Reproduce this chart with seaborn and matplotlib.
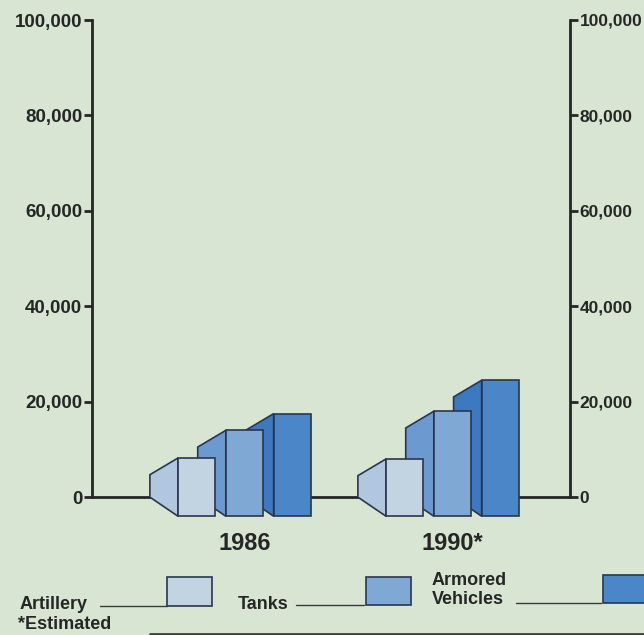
import matplotlib
matplotlib.use("Agg")
import matplotlib.pyplot as plt
from matplotlib.patches import Polygon, Rectangle
from matplotlib.lines import Line2D
import numpy as np
import pandas as pd
import seaborn as sns

# ---- data -------------------------------------------------------------
years = ["1986", "1990"]
year_labels = ["1986", "1990*"]
weapons = ["Artillery", "Tanks", "Armored Vehicles"]
artillery = [8200, 8000]
tanks = [14000, 18000]
armored = [17500, 24500]
y_ticks = [0, 20000, 40000, 60000, 80000, 100000]

# ---- styling ----------------------------------------------------------
BG = "#d8e5d3"
INK = "#262626"
EDGE = "#2a3550"
front_colors = ["#c2d3e2", "#80a8d5", "#4a86c8"]
side_colors = ["#b0c7df", "#6c99d0", "#3c79c0"]

sns.set_style("white")
plt.rcParams["font.family"] = ["Liberation Sans", "DejaVu Sans"]

W, H = 644, 635
fig = plt.figure(figsize=(W / 100, H / 100), dpi=100, facecolor=BG)

# axes: 0 sits at y=497 px, 100,000 at y=20 px; x spans the two vertical rules
ax = fig.add_axes([92 / W, (H - 521) / H, 478 / W, (521 - 20) / H])
ax.set_facecolor(BG)

df = pd.DataFrame({
    "year": years * 3,
    "weapon": np.repeat(weapons, len(years)),
    "count": artillery + tanks + armored,
})

sns.barplot(data=df, x="year", y="count", hue="weapon", order=years,
            hue_order=weapons, palette=front_colors, saturation=1,
            width=0.69, gap=0.22, edgecolor=EDGE, linewidth=1.2,
            errorbar=None, legend=False, ax=ax)

# ---- turn flat bars into shaded blocks ----------------------------------
DROP_FRONT = 4000    # front face hangs below the base line
TAPER = 3500         # receding edge is shorter at the top
DEPTH = 0.135        # horizontal depth of the receding face (category units)

for i, container in enumerate(ax.containers):
    z = 10 - 2 * i
    for bar in container:
        value = bar.get_height()
        x0 = bar.get_x()
        bar.set_y(-DROP_FRONT)
        bar.set_height(value + DROP_FRONT)
        bar.set_zorder(z + 1)
        side = Polygon([(x0, -DROP_FRONT), (x0, value),
                        (x0 - DEPTH, value - TAPER), (x0 - DEPTH, 0)],
                       closed=True, facecolor=side_colors[i], edgecolor=EDGE,
                       linewidth=1.2, joinstyle="miter", zorder=z)
        ax.add_patch(side)

# base line joining the two scales
ax.axhline(0, color=INK, lw=2.0, zorder=2)

ax.set_xlim(-0.733, 1.565)
ax.set_ylim(-5000, 100000)

# ---- axes -------------------------------------------------------------
for s in ("top", "bottom"):
    ax.spines[s].set_visible(False)
for s in ("left", "right"):
    ax.spines[s].set_visible(True)
    ax.spines[s].set_bounds(0, 100000)
    ax.spines[s].set_linewidth(2.0)
    ax.spines[s].set_color(INK)

ax.set_yticks(y_ticks, [f"{v:,}" for v in y_ticks])
ax.tick_params(axis="y", left=True, right=True, labelleft=True,
               labelright=True, length=6, width=2.0, color=INK, pad=1,
               labelsize=13.5, labelcolor=INK)
for tick in ax.yaxis.get_major_ticks():
    tick.label1.set_fontweight("bold")
    tick.label2.set_fontweight("bold")
    tick.label2.set_fontsize(12.5)

ax.set_xticks([0, 1], year_labels)
ax.tick_params(axis="x", length=0, pad=8, labelsize=17, labelcolor=INK)
for lab in ax.get_xticklabels():
    lab.set_fontweight("bold")
ax.set_xlabel("")
ax.set_ylabel("")


# ---- key along the bottom ---------------------------------------------
def fx(x):
    return x / W


def fy(y):
    return 1 - y / H


key = [
    (["Artillery"], 20, 100, 167, 167, 212, 577, 606),
    (["Tanks"], 238, 296, 364, 366, 411, 577, 605),
    (["Armored", "Vehicles"], 432, 516, 601, 603, 652, 575, 603),
]
for i, (lines, tx, l0, l1, b0, b1, btop, bbot) in enumerate(key):
    if len(lines) == 1:
        fig.text(fx(tx), fy(609), lines[0], fontsize=13, fontweight="bold",
                 color=INK, va="baseline", ha="left")
    else:
        fig.text(fx(tx), fy(585), lines[0], fontsize=13, fontweight="bold",
                 color=INK, va="baseline", ha="left")
        fig.text(fx(tx), fy(604), lines[1], fontsize=13, fontweight="bold",
                 color=INK, va="baseline", ha="left")
    ly = bbot
    fig.add_artist(Line2D([fx(l0), fx(l1)], [fy(ly), fy(ly)],
                          transform=fig.transFigure, color="#3a3a3a", lw=1.0))
    fig.add_artist(Rectangle((fx(b0), fy(bbot)), fx(b1) - fx(b0),
                             fy(btop) - fy(bbot), transform=fig.transFigure,
                             facecolor=front_colors[i], edgecolor=EDGE,
                             linewidth=1.2))

fig.text(fx(18), fy(629), "*Estimated", fontsize=13, fontweight="bold",
         color=INK, va="baseline", ha="left")

# dark trim along the lower edge of the page
fig.add_artist(Line2D([fx(150), fx(644)], [fy(634), fy(634)],
                      transform=fig.transFigure, color="#3c3f3c", lw=2.0))

fig.savefig("out.png", dpi=100, facecolor=BG)
